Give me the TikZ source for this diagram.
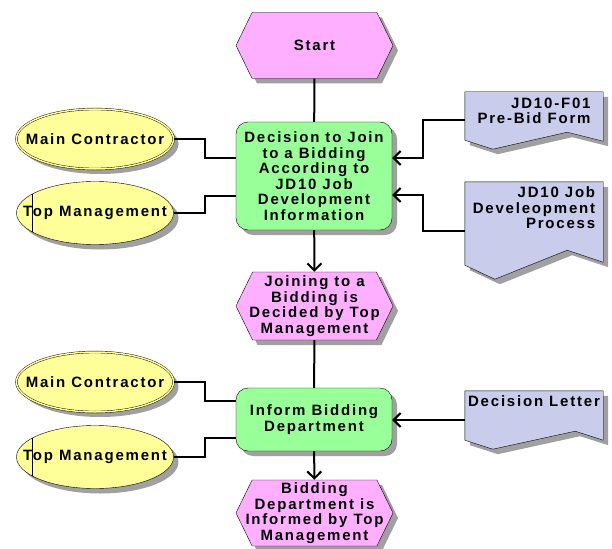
\documentclass[tikz,border=0pt]{standalone}
\usepackage{fontspec}
\setmainfont{Liberation Sans}[LetterSpace=12]
\usetikzlibrary{arrows.meta, shapes.geometric, shapes.symbols, shadows}
\definecolor{evtpink}{RGB}{255,175,255}
\definecolor{fncgreen}{RGB}{153,255,153}
\definecolor{orgyellow}{RGB}{255,255,153}
\definecolor{docblue}{RGB}{202,204,236}
\definecolor{shadowgray}{RGB}{160,160,160}
\tikzset{
  dshadow/.style={drop shadow={shadow xshift=5pt, shadow yshift=-5pt, fill=shadowgray, opacity=1}},
  evt/.style={signal, signal to=west and east, signal pointer angle=128, draw, fill=evtpink,
    minimum width=157pt, minimum height=66pt, inner xsep=-16pt, inner ysep=0pt, align=center, dshadow},
  fnc/.style={rectangle, rounded corners=12pt, draw, fill=fncgreen, minimum width=156pt,
    inner sep=0pt, align=center, dshadow},
  orgunit/.style={ellipse, draw, double=orgyellow, double distance=1.5pt, fill=orgyellow,
    minimum width=157pt, minimum height=60pt, inner sep=0pt, dshadow},
  orgpos/.style={ellipse, draw, fill=orgyellow, minimum width=157pt, minimum height=63pt,
    inner sep=0pt, dshadow,
    path picture={\draw ([xshift=16pt]path picture bounding box.south west) -- ([xshift=16pt]path picture bounding box.north west);}},
  docbox/.style={rectangle, minimum width=138pt, inner sep=0pt},
  docshape/.style={draw, fill=docblue, dshadow},
  doctext/.style={anchor=north, align=right, inner sep=0pt},
  conn/.style={line width=2pt}
}

\begin{document}
\begin{tikzpicture}[x=1pt, y=-1pt, font=\bfseries\fontsize{15}{15.5}\selectfont,
  >={Straight Barb[length=7pt, width=14pt]}]
  \useasboundingbox (0,0) rectangle (612,548);
  % process chain
  \node[evt] (start) at (314.5,45.5) {Start};
  \node[fnc, minimum height=108pt] (decide) at (314,176) {Decision to Join\\to a Bidding\\According to\\JD10 Job\\Development\\Information};
  \node[evt, minimum height=68pt] (joined) at (314.5,306) {Joining to a\\Bidding is\\Decided by Top\\Management};
  \node[fnc, minimum height=63pt] (inform) at (314,419.5) {Inform Bidding\\Department};
  \node[evt] (informed) at (314.5,513) {Bidding\\Department is\\Informed by Top\\Management};
  % organisation
  \node[orgunit] (mc1) at (95,139) {\makebox[0pt]{Main Contractor}};
  \node[orgpos] (tm1) at (95,213) {\makebox[0pt]{Top Management}};
  \node[orgunit] (mc2) at (95,382) {\makebox[0pt]{Main Contractor}};
  \node[orgpos] (tm2) at (95,457) {\makebox[0pt]{Top Management}};
  % documents
  \node[docbox, minimum height=57pt] (form) at (534,120.5) {};
  \draw[docshape] (form.north west) -- (form.north east) -- ([yshift=8pt]form.south east)
    -- ([xshift=-36pt,yshift=17pt]form.south east) -- ([xshift=28pt]form.south west)
    -- ([yshift=9pt]form.south west) -- cycle;
  \node[doctext] (formtxt) at ([yshift=-6pt]form.north) {JD10-F01\\Pre-Bid Form};
  \node[docbox, minimum height=97pt] (jobdev) at (534,230.5) {};
  \draw[docshape] (jobdev.north west) -- (jobdev.north east) -- ([yshift=17pt]jobdev.south east)
    -- ([xshift=-36pt,yshift=29pt]jobdev.south east) -- ([xshift=30pt]jobdev.south west)
    -- ([yshift=14pt]jobdev.south west) -- cycle;
  \node[doctext] (jobdevtxt) at ([yshift=-5pt]jobdev.north) {JD10 Job\\Develeopment\\Process};
  \node[docbox, minimum height=58pt] (letter) at (534,420) {};
  \draw[docshape] (letter.north west) -- (letter.north east) -- ([yshift=9pt]letter.south east)
    -- ([xshift=-28pt,yshift=18pt]letter.south east) -- ([xshift=28pt]letter.south west)
    -- ([yshift=9pt]letter.south west) -- cycle;
  \node[doctext] (lettertxt) at ([yshift=-5pt]letter.north) {Decision Letter};
  % connectors
  \draw[conn] (start) -- (decide);
  \draw[conn,->] (decide) -- (joined);
  \draw[conn] (joined) -- (inform);
  \draw[conn,->] (inform) -- (informed);
  \draw[conn] (mc1.east) -- ++(31,0) |- ([yshift=18pt]decide.west);
  \draw[conn] (tm1.east) -- ++(31,0) |- ([yshift=-20pt]decide.west);
  \draw[conn] (mc2.east) -- ++(31,0) |- ([yshift=18.5pt]inform.west);
  \draw[conn] (tm2.east) -- ++(31,0) |- ([yshift=-18.5pt]inform.west);
  \draw[conn,->] (form.west) -- ++(-42,0) |- ([yshift=18pt]decide.east);
  \draw[conn,->] (jobdev.west) -- ++(-42,0) |- ([yshift=-19pt]decide.east);
  \draw[conn,->] (letter.west) -- (inform.east |- letter.west);
\end{tikzpicture}
\end{document}
